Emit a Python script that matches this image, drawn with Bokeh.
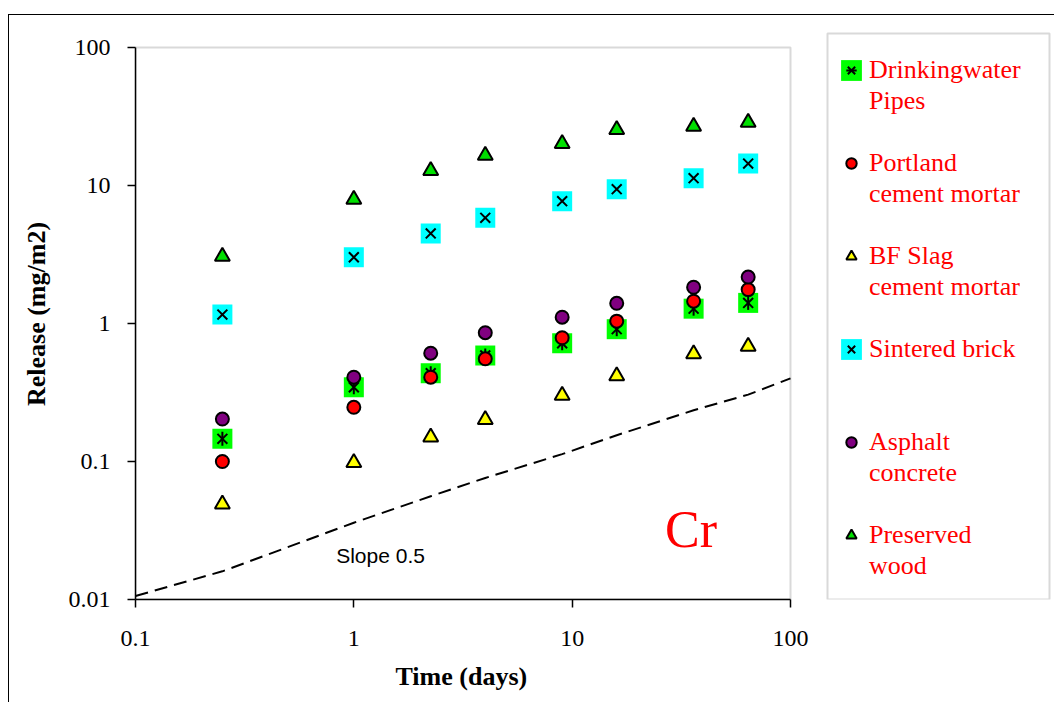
import math
from bokeh.plotting import figure
from bokeh.models import (Legend, LegendItem, Label, FixedTicker, BoxAnnotation, Title,
                          CustomJSTickFormatter, InlineStyleSheet)
from bokeh.core.properties import value
from bokeh.embed import file_html
from bokeh.resources import INLINE

# ---------------- data ----------------
time_days = [0.25, 1, 2.25, 4, 9, 16, 36, 64]
drinkingwater_pipes = [0.146, 0.345, 0.436, 0.586, 0.719, 0.909, 1.28, 1.41]
portland_cement_mortar = [0.100, 0.247, 0.408, 0.555, 0.788, 1.04, 1.45, 1.76]
bf_slag_cement_mortar = [0.049, 0.098, 0.150, 0.201, 0.301, 0.417, 0.603, 0.681]
sintered_brick = [1.16, 3.02, 4.49, 5.83, 7.70, 9.40, 11.3, 14.4]
asphalt_concrete = [0.203, 0.408, 0.609, 0.857, 1.11, 1.40, 1.83, 2.17]
preserved_wood = [3.06, 7.92, 12.8, 16.5, 20.1, 25.4, 26.8, 28.6]

slope_x = [0.1, 0.25, 1, 2.25, 4, 9, 16, 36, 64, 100]
slope_y = [0.0106, 0.016, 0.036, 0.056, 0.076, 0.113, 0.155, 0.235, 0.305, 0.40]

x_ticks = [0.1, 1, 10, 100]
x_tick_labels = ["0.1", "1", "10", "100"]
y_ticks = [0.01, 0.1, 1, 10, 100]
y_tick_labels = ["0.01", "0.1", "1", "10", "100"]

legend_lines = [("Drinkingwater", "Pipes"), ("Portland", "cement mortar"),
                ("BF Slag", "cement mortar"), ("Sintered brick", " "),
                ("Asphalt", "concrete"), ("Preserved", "wood")]

# ---------------- figure ----------------
# The frame is wider/taller than the axes so that the legend (placed inside it) is not clipped;
# the axes are bounded to the data area 0.1-100 x 0.01-100.
p = figure(width=1054, height=702, x_axis_type="log", y_axis_type="log",
           x_range=(0.1, 1619), y_range=(0.01, 137.2),
           output_backend="svg", toolbar_location=None,
           min_border_left=135, min_border_top=28, min_border_right=0,
           min_border_bottom=102)
p.xgrid.visible = False
p.ygrid.visible = False
p.background_fill_color = "white"
p.border_fill_color = "white"
p.outline_line_color = None

# outer chart border (left and top edges of the chart area)
p.stylesheets = [InlineStyleSheet(css="""
:host { position: relative; }
:host::after { content: ""; position: absolute; left: 8px; top: 14px; right: 0px; bottom: 0px;
  border-left: 1.5px solid black; border-top: 1.5px solid black;
  pointer-events: none; z-index: 100; }
""")]

SERIF = "Liberation Serif"
for ax in (p.xaxis[0], p.yaxis[0]):
    ax.axis_line_color = "black"
    ax.axis_line_width = 1.5
    ax.major_tick_line_color = "black"
    ax.major_tick_line_width = 1.5
    ax.major_tick_in = 0
    ax.major_tick_out = 8
    ax.minor_tick_line_color = None
    ax.major_label_text_font = SERIF
    ax.major_label_text_font_size = "24px"
    ax.major_label_text_color = "black"
    ax.axis_label_text_font = SERIF
    ax.axis_label_text_font_style = "bold"
    ax.axis_label_text_font_size = "26px"
    ax.axis_label_text_color = "black"

FMT = ("for (let i = 0; i < tvals.length; i++) {"
       " if (Math.abs(tvals[i] - tick) < 1e-9 * tvals[i]) return tlabs[i]; }"
       " return tick.toString();")
p.xaxis.ticker = FixedTicker(ticks=x_ticks)
p.yaxis.ticker = FixedTicker(ticks=y_ticks)
p.xaxis.bounds = (x_ticks[0], x_ticks[-1])
p.yaxis.bounds = (y_ticks[0], y_ticks[-1])
p.xaxis.formatter = CustomJSTickFormatter(args=dict(tvals=x_ticks, tlabs=x_tick_labels), code=FMT)
p.yaxis.formatter = CustomJSTickFormatter(args=dict(tvals=y_ticks, tlabs=y_tick_labels), code=FMT)
p.yaxis.axis_label = "Release (mg/m2)"
p.xaxis.major_label_standoff = 23
p.yaxis.major_label_standoff = 17
p.yaxis.axis_label_standoff = 15

# x-axis title, centred under the bounded axis (not under the whole frame)
p.add_layout(Title(text="Time (days)", align="left", offset=260, standoff=23,
                   text_font=SERIF, text_font_style="bold", text_font_size="26px",
                   text_color="black"), "below")

# gray plot-area border (top / right), drawn under the axes
p.add_layout(BoxAnnotation(left=x_ticks[0], right=x_ticks[-1], bottom=y_ticks[0], top=y_ticks[-1],
                           fill_alpha=0, line_color="#808080", line_width=2, level="underlay"))

# ---------------- glyphs ----------------
p.line(slope_x, slope_y, line_color="black", line_width=2, line_dash="13 7")

dw_sq = p.rect(time_days, drinkingwater_pipes, width=20, height=20,
               width_units="screen", height_units="screen",
               fill_color="#00FF00", line_color=None)
dw_x = p.scatter(time_days, drinkingwater_pipes, marker="x", size=14,
                 line_color="black", line_width=2)
dw_v = p.scatter(time_days, drinkingwater_pipes, marker="dash", angle=math.pi / 2,
                 size=14, line_color="black", line_width=2)
pc = p.scatter(time_days, portland_cement_mortar, marker="circle", size=13,
               fill_color="red", line_color="black", line_width=2)
bf = p.scatter(time_days, bf_slag_cement_mortar, marker="triangle", size=15,
               fill_color="yellow", line_color="black", line_width=2)
sb_sq = p.rect(time_days, sintered_brick, width=20, height=20,
               width_units="screen", height_units="screen",
               fill_color="#00FFFF", line_color=None)
sb_x = p.scatter(time_days, sintered_brick, marker="x", size=14,
                 line_color="black", line_width=2)
ac = p.scatter(time_days, asphalt_concrete, marker="circle", size=13,
               fill_color="#800080", line_color="black", line_width=2)
pw = p.scatter(time_days, preserved_wood, marker="triangle", size=15,
               fill_color="#00E000", line_color="black", line_width=2)

# ---------------- annotations ----------------
p.add_layout(Label(x=0.83, y=0.021, text="Slope 0.5", text_font="Liberation Sans",
                   text_font_size="21px", text_color="black",
                   text_align="left", text_baseline="alphabetic"))
p.add_layout(Label(x=35, y=0.032, text="Cr", text_font=SERIF, text_font_size="52px",
                   text_color="red", text_align="center", text_baseline="alphabetic"))

# legend box
p.add_layout(BoxAnnotation(left=827, right=1049, top=33, bottom=599,
                           left_units="canvas", right_units="canvas",
                           top_units="canvas", bottom_units="canvas",
                           fill_alpha=0, line_color="#808080", line_width=2))

legend_renderers = [[dw_sq, dw_x, dw_v], [pc], [bf], [sb_sq, sb_x], [ac], [pw]]
items = []
for i, ((l1, l2), r) in enumerate(zip(legend_lines, legend_renderers)):
    items.append(LegendItem(label=value(l1), renderers=r))
    items.append(LegendItem(label=value(l2), renderers=[]))
    if i < len(legend_lines) - 1:
        items.append(LegendItem(label=value(" "), renderers=[]))

main_legend = Legend(
    items=items, location=(703, 17.5), orientation="vertical",
    padding=0, spacing=0, margin=0,
    glyph_width=26, glyph_height=26,
    label_standoff=5, label_width=160, label_height=31,
    label_text_font=SERIF, label_text_font_size="26px", label_text_color="red",
    border_line_alpha=0, background_fill_alpha=0)
p.add_layout(main_legend, "center")

open("out.html", "w").write(file_html(p, INLINE))
